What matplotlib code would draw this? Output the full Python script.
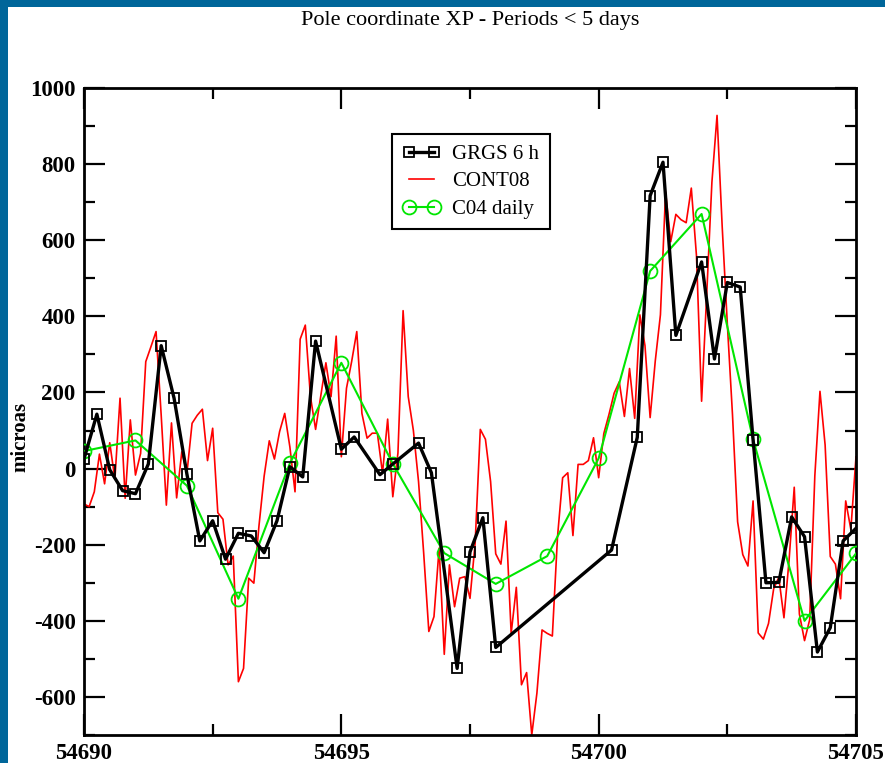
import matplotlib
matplotlib.use('Agg')
import matplotlib.pyplot as plt
import numpy as np
from matplotlib.patches import Rectangle
from matplotlib.ticker import MultipleLocator

# GRGS 6 h solutions (MJD, microas)
grgs_t = [54690.0, 54690.25, 54690.5, 54690.75, 54691.0, 54691.25, 54691.5, 54691.75,
          54692.0, 54692.25, 54692.5, 54692.75, 54693.0, 54693.25, 54693.5, 54693.75,
          54694.0, 54694.25, 54694.5, 54695.0, 54695.25, 54695.75, 54696.0, 54696.5,
          54696.75, 54697.25, 54697.5, 54697.75, 54698.0, 54700.25, 54700.75, 54701.0,
          54701.25, 54701.5, 54702.0, 54702.25, 54702.5, 54702.75, 54703.0, 54703.25,
          54703.5, 54703.75, 54704.0, 54704.25, 54704.5, 54704.75, 54705.0]
grgs_xp = [25, 143, -3, -58, -66, 12, 323, 185,
           -15, -190, -137, -238, -170, -177, -221, -137,
           5, -22, 335, 51, 83, -16, 12, 67,
           -11, -525, -219, -129, -470, -214, 82, 717,
           805, 350, 543, 288, 489, 477, 76, -300,
           -299, -127, -179, -482, -418, -190, -157]

# CONT08 series, one value every 0.1 day from 54690.0
cont08_t0 = 54690.0
cont08_dt = 0.1
cont08_xp = [-93, -100, -61, 38, -40, 68, -28, 185, -78, 128,
             -17, 40, 281, 320, 360, 140, -96, 120, -77, 44,
             -12, 119, 140, 156, 21, 106, -116, -133, -253, -230,
             -560, -525, -288, -301, -150, -20, 73, 25, 97, 145,
             57, -61, 340, 377, 189, 103, 190, 278, 189, 348,
             31, 211, 281, 360, 145, 80, 93, 93, -12, 130,
             -74, 41, 415, 189, 100, -34, -222, -428, -389, -209,
             -488, -253, -363, -288, -284, -341, -196, 103, 77, -34,
             -224, -251, -138, -433, -312, -568, -536, -700, -590, -424,
             -433, -440, -180, -24, -11, -176, 11, 11, 21, 81,
             -24, 92, 142, 198, 228, 137, 263, 132, 404, 323,
             134, 283, 404, 727, 596, 668, 654, 646, 737, 560,
             177, 460, 752, 928, 636, 380, 142, -140, -226, -256,
             -85, -432, -448, -407, -316, -286, -392, -240, -49, -382,
             -452, -397, -19, 203, 62, -231, -251, -342, -85, -160,
             31]
cont08_t = cont08_t0 + cont08_dt * np.arange(len(cont08_xp))

# C04 daily values
c04_t = [54690, 54691, 54692, 54693, 54694, 54695, 54696, 54697,
         54698, 54699, 54700, 54701, 54702, 54703, 54704, 54705]
c04_xp = [46, 74, -45, -342, 14, 278, 13, -222,
          -303, -230, 27, 519, 669, 77, -400, -223]

serif = ['Liberation Serif', 'DejaVu Serif']
plt.rcParams['font.family'] = serif
plt.rcParams['axes.unicode_minus'] = False

fig = plt.figure(figsize=(8.85, 7.63), dpi=100)
fig.patch.set_facecolor('white')

# blue frame strips on the left and top
fig.patches.append(Rectangle((0, 0), 8 / 885, 1, transform=fig.transFigure,
                             facecolor='#00669a', edgecolor='none', zorder=0))
fig.patches.append(Rectangle((0, 1 - 7 / 763), 1, 7 / 763, transform=fig.transFigure,
                             facecolor='#00669a', edgecolor='none', zorder=0))

ax = fig.add_axes([84 / 885, 1 - 735 / 763, (856 - 84) / 885, (735 - 88) / 763])

ax.plot(grgs_t, grgs_xp, color='black', lw=2.4, marker='s', markersize=7.5,
        markerfacecolor='none', markeredgecolor='black', markeredgewidth=1.3,
        label='GRGS 6 h', zorder=4)
ax.plot(cont08_t, cont08_xp, color='red', lw=1.2, label='CONT08', zorder=2)
ax.plot(c04_t, c04_xp, color='#00e600', lw=1.5, marker='o', markersize=10,
        markerfacecolor='none', markeredgecolor='#00e600', markeredgewidth=1.3,
        label='C04 daily', zorder=3)

ax.set_xlim(54690, 54705)
ax.set_ylim(-700, 1000)
ax.xaxis.set_major_locator(MultipleLocator(5))
ax.xaxis.set_minor_locator(MultipleLocator(2.5))
ax.yaxis.set_major_locator(MultipleLocator(200))
ax.yaxis.set_minor_locator(MultipleLocator(100))
ax.ticklabel_format(axis='x', useOffset=False, style='plain')

ax.tick_params(which='both', direction='in', top=True, right=True, width=1.6)
ax.tick_params(which='major', length=15, labelsize=16.5, pad=6)
ax.tick_params(which='minor', length=8)
for lab in ax.get_xticklabels() + ax.get_yticklabels():
    lab.set_fontweight('bold')
for sp in ax.spines.values():
    sp.set_linewidth(2)

ax.set_ylabel('microas', fontsize=15, fontweight='bold')
ax.yaxis.set_label_coords(-0.07, 0.46)

fig.text(470 / 885, 1 - 20 / 763, 'Pole coordinate XP - Periods < 5 days',
         ha='center', va='center', fontsize=16)

leg = ax.legend(loc='upper left', bbox_to_anchor=((392 - 84) / 772, (735 - 134) / 647),
                borderaxespad=0, fancybox=False, framealpha=1, edgecolor='black',
                fontsize=15, numpoints=2, handlelength=1.8, handletextpad=0.6,
                labelspacing=0.38, borderpad=0.5)
leg.get_frame().set_linewidth(1.5)

fig.savefig('out.png', dpi=100)
